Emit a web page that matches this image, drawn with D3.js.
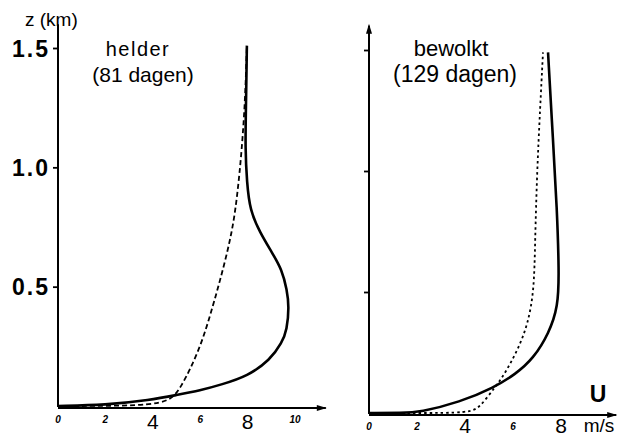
<!DOCTYPE html>
<html>
<head>
<meta charset="utf-8">
<script src="https://cdn.jsdelivr.net/npm/d3@7"></script>
<style>
  body { margin: 0; background: #fff; }
  svg { display: block; font-family: "Liberation Sans", Arial, sans-serif; }
</style>
</head>
<body>
<svg id="chart" width="627" height="441"></svg>
<script>
// wind speed U (m/s) against height z (km)
const zTicks = [0.5, 1.0, 1.5];
const zTickLabels = ["0.5", "1.0", "1.5"];
const uTicks = [0, 2, 4, 6, 8, 10];
const uTicksRight = [0, 2, 4, 6, 8];
const bigTicks = [4, 8];

// helder (81 dagen)
const helderSolidU = [0, 2.0, 3.9, 5.0, 6.0, 6.9, 8.0, 8.95, 9.45, 9.66, 9.75, 9.66, 9.45, 9.03, 8.52, 8.1, 7.97, 7.9, 7.93, 7.97];
const helderSolidZ = [0, 0.004, 0.025, 0.046, 0.065, 0.09, 0.125, 0.193, 0.265, 0.319, 0.416, 0.487, 0.571, 0.643, 0.727, 0.82, 0.937, 1.08, 1.25, 1.51];
const helderDashU = [0, 2.0, 4.6, 5.15, 6.0, 6.54, 6.96, 7.34, 7.55, 7.76, 7.9, 7.97];
const helderDashZ = [0, 0.0, 0.005, 0.067, 0.24, 0.42, 0.57, 0.727, 0.866, 1.076, 1.29, 1.51];

// bewolkt (129 dagen)
const bewolktSolidU = [0, 1.4, 2.1, 3.79, 5.2, 6.1, 6.85, 7.5, 7.88, 7.92, 7.83, 7.67, 7.46];
const bewolktSolidZ = [0, 0, 0.003, 0.045, 0.105, 0.16, 0.225, 0.33, 0.44, 0.58, 0.85, 1.12, 1.49];
const bewolktDashU = [0, 2.0, 4.2, 4.63, 5.25, 5.58, 6.2, 6.63, 6.88, 6.92, 7.0, 7.13, 7.25];
const bewolktDashZ = [0, 0, 0, 0.025, 0.107, 0.149, 0.26, 0.37, 0.51, 0.71, 0.99, 1.26, 1.49];

const svg = d3.select("#chart");

const panels = [
  {
    x: d3.scaleLinear().domain([0, 10]).range([58, 295]),
    y: d3.scaleLinear().domain([0, 1.5]).range([406, 48]),
    ticks: uTicks, uMax: 11.3, zMax: 1.6, arrowUp: false, labels: true, bigDy: 21,
    solid: [helderSolidU, helderSolidZ], dash: [helderDashU, helderDashZ], dashArr: "5,3",
    title: ["helder", "(81 dagen)"], tx: [138, 143], tSize: 20, tSpacing: 1.5
  },
  {
    x: d3.scaleLinear().domain([0, 8]).range([369, 561]),
    y: d3.scaleLinear().domain([0, 1.5]).range([413, 50]),
    ticks: uTicksRight, uMax: 10.3, zMax: 1.6, arrowUp: true, labels: false, bigDy: 18,
    solid: [bewolktSolidU, bewolktSolidZ], dash: [bewolktDashU, bewolktDashZ], dashArr: "2.5,3",
    title: ["bewolkt", "(129 dagen)"], tx: [451, 455], tSize: 22, tSpacing: 0
  }
];

panels.forEach(p => {
  const g = svg.append("g");

  // vertical axis
  const yAxis = d3.axisLeft(p.y).tickValues(zTicks).tickSize(5)
    .tickFormat((d, i) => p.labels ? zTickLabels[i] : "");
  const ga = g.append("g").attr("transform", `translate(${p.x(0)},0)`).call(yAxis);
  ga.select(".domain").remove();
  ga.selectAll(".tick line").attr("stroke", "#000").attr("stroke-width", 1.8);
  ga.selectAll(".tick text").attr("font-size", 23).attr("fill", "#000")
    .attr("font-weight", "bold").attr("letter-spacing", 2).attr("dy", "0.35em");

  g.append("line")
    .attr("x1", p.x(0)).attr("x2", p.x(0))
    .attr("y1", p.y(0) + 1).attr("y2", p.y(p.zMax))
    .attr("stroke", "#000").attr("stroke-width", 2);
  if (p.arrowUp) {
    const ax = p.x(0), ay = p.y(p.zMax);
    g.append("path").attr("d", `M${ax - 3},${ay + 8}L${ax},${ay - 2}L${ax + 3},${ay + 8}Z`).attr("fill", "#000");
  }

  // horizontal axis
  const x0 = p.x(0), x1 = p.x(p.uMax), yb = p.y(0) + 2;
  g.append("line").attr("x1", x0).attr("x2", x1).attr("y1", yb).attr("y2", yb)
    .attr("stroke", "#000").attr("stroke-width", 2);
  g.append("path").attr("d", `M${x1 - 9},${yb - 3}L${x1 + 1},${yb}L${x1 - 9},${yb + 3}Z`).attr("fill", "#000");

  p.ticks.forEach(t => {
    const big = bigTicks.includes(t);
    g.append("text")
      .attr("x", p.x(t)).attr("y", big ? yb + p.bigDy : yb + 15)
      .attr("text-anchor", "middle")
      .attr("font-size", big ? 21 : 10)
      .attr("font-style", big ? "normal" : "italic")
      .attr("font-weight", big ? "normal" : "bold")
      .text(t);
  });

  // curves
  const line = d3.line().x(d => p.x(d[0])).y(d => p.y(d[1])).curve(d3.curveBasis);
  g.append("path").datum(d3.zip(p.solid[0], p.solid[1]))
    .attr("d", line).attr("fill", "none").attr("stroke", "#000").attr("stroke-width", 2.6);
  g.append("path").datum(d3.zip(p.dash[0], p.dash[1]))
    .attr("d", line).attr("fill", "none").attr("stroke", "#000").attr("stroke-width", 1.8)
    .attr("stroke-dasharray", p.dashArr);

  // titles
  g.append("text").attr("x", p.tx[0]).attr("y", 56).attr("text-anchor", "middle")
    .attr("font-size", p.tSize).attr("letter-spacing", p.tSpacing).text(p.title[0]);
  g.append("text").attr("x", p.tx[1]).attr("y", 82).attr("text-anchor", "middle")
    .attr("font-size", p.tSize + 1).text(p.title[1]);
});

// axis names
svg.append("text").attr("x", 25).attr("y", 26).attr("font-size", 19).text("z (km)");
svg.append("text").attr("x", 598).attr("y", 402).attr("text-anchor", "middle")
  .attr("font-size", 23).attr("font-weight", "bold").text("U");
svg.append("text").attr("x", 599).attr("y", 432).attr("text-anchor", "middle")
  .attr("font-size", 19).text("m/s");
</script>
</body>
</html>
